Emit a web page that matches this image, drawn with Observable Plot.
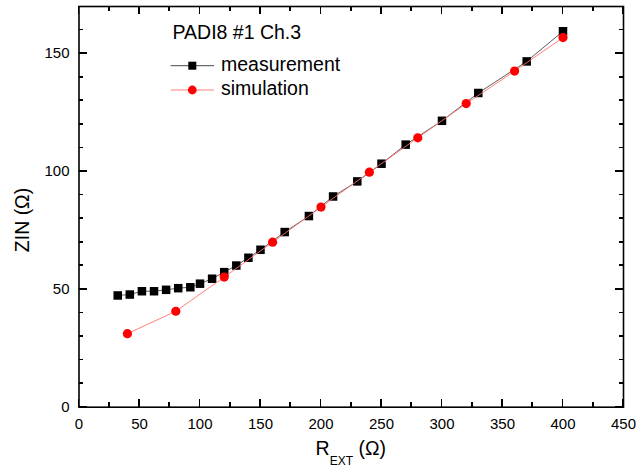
<!DOCTYPE html>
<html>
<head>
<meta charset="utf-8">
<script src="https://cdn.jsdelivr.net/npm/d3@7"></script>
<script src="https://cdn.jsdelivr.net/npm/@observablehq/plot@0.6"></script>
<style>
  html, body { margin: 0; padding: 0; background: white; }
  #chart { width: 636px; height: 472px; }
</style>
</head>
<body>
<div id="chart"></div>
<script>
// Measurement (black squares)
const measR = [32, 42, 52, 62, 72, 82, 92, 100, 110, 120, 130, 140, 150, 170, 190, 210, 230, 250, 270, 300, 330, 370, 400];
const measZ = [47.4, 47.8, 49.2, 49.2, 49.8, 50.5, 50.9, 52.4, 54.5, 57.3, 60.1, 63.4, 66.8, 74.3, 81.1, 89.4, 95.8, 103.3, 111.4, 121.5, 133.3, 146.7, 159.5];
// Simulation (red circles)
const simR = [40, 80, 120, 160, 200, 240, 280, 320, 360, 400];
const simZ = [31.2, 40.7, 55.2, 70.0, 84.9, 99.7, 114.3, 128.8, 142.6, 156.8];

const xMajor = [0, 50, 100, 150, 200, 250, 300, 350, 400, 450];
const xMinor = [25, 75, 125, 175, 225, 275, 325, 375, 425];
const yMajor = [0, 50, 100, 150];
const yMinor = [10, 20, 30, 40, 60, 70, 80, 90, 110, 120, 130, 140, 160];

const titleText = "PADI8 #1 Ch.3";
const seriesNames = ["measurement", "simulation"];

const meas = measR.map((r, i) => ({r, z: measZ[i]}));
const sim = simR.map((r, i) => ({r, z: simZ[i]}));

const chart = Plot.plot({
  width: 636,
  height: 472,
  marginLeft: 78.5,
  marginRight: 13,
  marginTop: 6,
  marginBottom: 65.3,
  x: {domain: [0, 450]},
  y: {domain: [0, 170]},
  style: {fontFamily: "'Liberation Sans', Arial, sans-serif", fontSize: "15px", color: "black", background: "white"},
  marks: [
    Plot.axisX({ticks: xMajor, tickSize: 0, tickPadding: 11, label: null, tickFormat: d => d}),
    Plot.axisY({ticks: yMajor, tickSize: 0, tickPadding: 9.5, label: null, tickFormat: d => d}),
    Plot.line(meas, {x: "r", y: "z", stroke: "#333", strokeWidth: 0.8}),
    Plot.dot(meas, {x: "r", y: "z", symbol: "square", r: 4.8, fill: "black", stroke: "none"}),
    Plot.line(sim, {x: "r", y: "z", stroke: "#ff7070", strokeWidth: 0.9}),
    Plot.dot(sim, {x: "r", y: "z", symbol: "circle", r: 4.6, fill: "#ff0000", stroke: "none"}),
    Plot.frame({stroke: "black", strokeWidth: 1.6})
  ]
});

const svg = d3.select(chart);
const font = "'Liberation Sans', Arial, sans-serif";
const sx = chart.scale("x"), sy = chart.scale("y");
const [x0, x1] = sx.range, [y0, y1] = sy.range; // y0 bottom, y1 top

// Inward tick marks on all four sides (filled rects), positioned with Plot's scales
const MJ = 8, MN = 4.5, TW = 1.7;
const tg = svg.append("g").attr("class", "inward-ticks").attr("shape-rendering", "crispEdges");
function tick(x, y, w, h) {
  tg.append("rect").attr("x", x).attr("y", y).attr("width", w).attr("height", h)
    .attr("fill", "#000000").attr("stroke", "none");
}
function xt(vals, len) {
  vals.forEach(v => {
    const px = sx.apply(v);
    tick(px - TW / 2, y0 - len, TW, len);
    tick(px - TW / 2, y1, TW, len);
  });
}
function yt(vals, len) {
  vals.forEach(v => {
    const py = sy.apply(v);
    tick(x0, py - TW / 2, len, TW);
    tick(x1 - len, py - TW / 2, len, TW);
  });
}
xt(xMajor, MJ); xt(xMinor, MN);
yt(yMajor, MJ); yt(yMinor, MN);

// Axis titles
svg.append("text")
  .attr("transform", "translate(28.5,220) rotate(-90)")
  .attr("text-anchor", "middle")
  .attr("font-family", font)
  .attr("font-size", 19.5)
  .attr("fill", "black")
  .text("ZIN (\u03A9)");

const xl = svg.append("text")
  .attr("x", (x0 + x1) / 2)
  .attr("y", 455)
  .attr("text-anchor", "middle")
  .attr("font-family", font)
  .attr("font-size", 19.5)
  .attr("fill", "black");
xl.append("tspan").text("R");
xl.append("tspan").attr("dy", 9.5).attr("font-size", 12).text("EXT");
xl.append("tspan").attr("dy", -9.5).text(" (\u03A9)");

// Legend
const lg = svg.append("g").attr("font-family", font).attr("fill", "black").attr("text-anchor", "start");
lg.append("text").attr("x", 172.5).attr("y", 39).attr("font-size", 19.5).text(titleText);

const rows = [
  {y: 65.7, name: seriesNames[0], line: "#333", fill: "black", sym: "square"},
  {y: 90, name: seriesNames[1], line: "#ff7070", fill: "#ff0000", sym: "circle"}
];
rows.forEach(rw => {
  lg.append("line").attr("x1", 170.7).attr("x2", 214).attr("y1", rw.y).attr("y2", rw.y)
    .attr("stroke", rw.line).attr("stroke-width", 0.9);
  if (rw.sym === "square") {
    lg.append("rect").attr("x", 192.3 - 4).attr("y", rw.y - 4).attr("width", 8).attr("height", 8)
      .attr("fill", rw.fill);
  } else {
    lg.append("circle").attr("cx", 192.3).attr("cy", rw.y).attr("r", 4.4).attr("fill", rw.fill);
  }
  lg.append("text").attr("x", 221).attr("y", rw.y + 5.3).attr("font-size", 19.5).text(rw.name);
});

document.getElementById("chart").appendChild(chart);
</script>
</body>
</html>
